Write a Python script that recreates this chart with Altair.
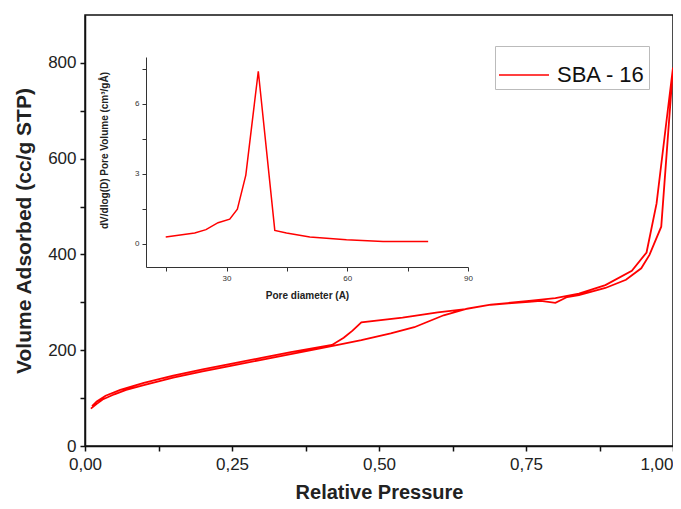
import altair as alt
import pandas as pd

# Isotherm: adsorption branch (relative pressure, volume adsorbed)
ads_p = [0.01, 0.02, 0.03, 0.05, 0.07, 0.10, 0.15, 0.20, 0.25, 0.30, 0.35, 0.40,
         0.43, 0.47, 0.52, 0.56, 0.61, 0.65, 0.69, 0.72, 0.755, 0.775, 0.80, 0.82,
         0.84, 0.885, 0.92, 0.946, 0.96, 0.98, 1.00]
ads_v = [78, 88, 97, 108, 117, 127, 143, 156, 168, 180, 192, 204,
         211, 221, 235, 248, 273, 287, 295, 298, 301, 303, 299, 311,
         315, 330, 347, 371, 399, 458, 790]

# Desorption branch
des_p = [1.00, 0.992, 0.972, 0.955, 0.93, 0.885, 0.84, 0.80, 0.755, 0.69, 0.647,
         0.60, 0.54, 0.47, 0.455, 0.44, 0.42, 0.35, 0.30, 0.25, 0.20, 0.15, 0.10,
         0.06, 0.035, 0.02, 0.012]
des_v = [790, 710, 506, 404, 366, 336, 318, 309, 303, 295, 286,
         279, 268, 258, 241, 226, 211, 196, 184, 172, 160, 147, 132,
         117, 105, 93, 83]

# Inset: pore size distribution
pore_d = [14.9, 22.1, 24.9, 27.9, 30.8, 32.7, 34.8, 37.9, 42.0, 44.9, 50.7, 59.8, 68.9, 80.1]
pore_v = [0.29, 0.46, 0.60, 0.90, 1.05, 1.48, 2.94, 7.39, 0.57, 0.46, 0.29, 0.17, 0.09, 0.09]

series_name = "SBA - 16"

x_ticks = [0, 0.125, 0.25, 0.375, 0.5, 0.625, 0.75, 0.875, 1.0]
y_ticks = [0, 100, 200, 300, 400, 500, 600, 700, 800]
inset_x_ticks = [15, 30, 45, 60, 75, 90]
inset_y_ticks = [0, 1.5, 3, 4.5, 6, 7.5]

main_df = pd.DataFrame({
    "p": ads_p + des_p,
    "v": ads_v + des_v,
    "idx": list(range(len(ads_p) + len(des_p))),
    "series": series_name,
})
inset_df = pd.DataFrame({"d": pore_d, "dv": pore_v})

FONT = "Liberation Sans"
RED = "#ff0000"

main = alt.Chart(main_df).mark_line(strokeWidth=1.8, color=RED).encode(
    x=alt.X("p:Q",
            scale=alt.Scale(domain=[0, 1], nice=False, zero=False),
            axis=alt.Axis(title="Relative Pressure", values=x_ticks,
                          labelExpr="datum.value % 0.25 == 0 ? replace(format(datum.value, '.2f'), '.', ',') : ''",
                          labelAlign={"condition": {"test": "datum.value == 1", "value": "right"},
                                      "value": "center"},
                          grid=False, tickSize=5, tickWidth=1.5, tickColor="#111",
                          domainColor="#111", domainWidth=1.5,
                          labelFont=FONT, labelFontSize=17, labelColor="#222",
                          labelPadding=5, labelFlush=False,
                          titleFont=FONT, titleFontSize=20, titleFontWeight="bold",
                          titleColor="#222", titlePadding=10)),
    y=alt.Y("v:Q",
            scale=alt.Scale(domain=[0, 900], nice=False, zero=False),
            axis=alt.Axis(title="Volume Adsorbed (cc/g STP)", values=y_ticks,
                          labelExpr="datum.value % 200 == 0 ? datum.label : ''",
                          grid=False, tickSize=5, tickWidth=1.5, tickColor="#111",
                          domainColor="#111", domainWidth=1.5,
                          labelFont=FONT, labelFontSize=17, labelColor="#222",
                          labelPadding=4,
                          titleFont=FONT, titleFontSize=21, titleFontWeight="bold",
                          titleColor="#222", titlePadding=13)),
    color=alt.Color("series:N", scale=alt.Scale(range=[RED]),
                    legend=alt.Legend(title=None, orient="none", legendX=410, legendY=31,
                                      symbolType="stroke", symbolSize=2500,
                                      symbolStrokeWidth=1.5, labelFont=FONT,
                                      labelFontSize=22, labelColor="#111",
                                      padding=3, strokeColor="#bbb", labelOffset=7)),
    order="idx:Q",
)

inset = alt.Chart(inset_df).mark_line(strokeWidth=1.5, color=RED).encode(
    x=alt.X("d:Q",
            scale=alt.Scale(domain=[10, 90], range=[61, 383], nice=False, zero=False),
            axis=alt.Axis(orient="bottom", offset=-179, title="Pore diameter (A)",
                          values=inset_x_ticks,
                          labelExpr="datum.value % 30 == 0 ? datum.label : ''",
                          grid=False, tickSize=4, tickColor="#333", domainColor="#333",
                          labelFont=FONT, labelFontSize=8, labelColor="#333",
                          labelPadding=3, labelFlush=False,
                          titleFont=FONT, titleFontSize=10, titleFontWeight="bold",
                          titleColor="#222", titlePadding=8)),
    y=alt.Y("dv:Q",
            scale=alt.Scale(domain=[-1, 8], range=[252, 42], nice=False, zero=False),
            axis=alt.Axis(orient="left", offset=-61,
                          title="dV/dlog(D) Pore Volume (cm³/gÅ)",
                          values=inset_y_ticks,
                          labelExpr="datum.value % 3 == 0 ? datum.label : ''",
                          grid=False, tickSize=4, tickColor="#333", domainColor="#333",
                          labelFont=FONT, labelFontSize=8, labelColor="#333",
                          labelPadding=3,
                          titleFont=FONT, titleFontSize=10, titleFontWeight="bold",
                          titleColor="#222", titlePadding=25, titleY=135)),
)

chart = alt.layer(main, inset).resolve_scale(
    x="independent", y="independent"
).properties(
    width=588, height=431,
    autosize=alt.AutoSizeParams(type="none"),
    padding={"left": 77, "top": 7, "right": 0, "bottom": 55},
).configure_view(stroke="#111", strokeWidth=1.5)

chart.save("out.html", embed_options={"renderer": "svg", "actions": False})
